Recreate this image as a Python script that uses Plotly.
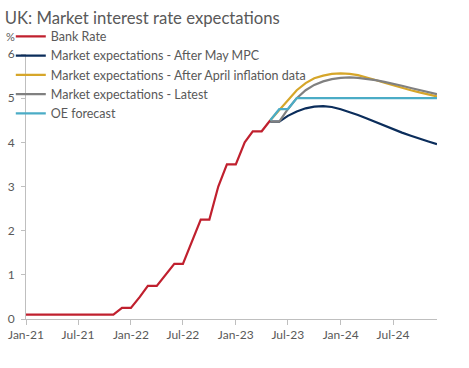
import pandas as pd
import plotly.graph_objects as go

bank_dates = pd.date_range("2021-01-01", "2023-05-01", freq="MS")
bank_rate = [0.1] * 11 + [0.25, 0.25, 0.5, 0.75, 0.75, 1.0, 1.25, 1.25, 1.75, 2.25, 2.25,
                          3.0, 3.5, 3.5, 4.0, 4.25, 4.25, 4.5]

fc_dates = pd.date_range("2023-05-01", "2024-12-01", freq="MS")
after_may_mpc = [4.47, 4.47, 4.60, 4.70, 4.77, 4.81, 4.82, 4.80, 4.75, 4.69, 4.62, 4.54,
                 4.46, 4.38, 4.30, 4.22, 4.15, 4.08, 4.02, 3.96]
after_april_cpi = [4.50, 4.73, 4.97, 5.18, 5.34, 5.45, 5.51, 5.55, 5.56, 5.55, 5.52, 5.47,
                   5.41, 5.35, 5.29, 5.23, 5.18, 5.13, 5.08, 5.04]
latest = [4.47, 4.47, 4.75, 5.00, 5.18, 5.30, 5.38, 5.43, 5.46, 5.47, 5.46, 5.44,
          5.41, 5.37, 5.33, 5.28, 5.23, 5.18, 5.13, 5.09]
oe_forecast = [4.5, 4.75, 4.75] + [5.0] * 17

names = ["Bank Rate", "Market expectations - After May MPC",
         "Market expectations - After April inflation data",
         "Market expectations - Latest", "OE forecast"]
colors = ["#C0202E", "#0B2D5B", "#D6A62A", "#808080", "#4BACC6"]

tick_vals = pd.date_range("2021-01-01", "2024-07-01", freq="6MS")
tick_text = [d.strftime("%b-%y") for d in tick_vals]

FONT = "Lato, Open Sans, sans-serif"
GREY = "#595959"

fig = go.Figure()
series = [(bank_dates, bank_rate), (fc_dates, after_may_mpc), (fc_dates, after_april_cpi),
          (fc_dates, latest), (fc_dates, oe_forecast)]
for (x, y), name, col in zip(series, names, colors):
    fig.add_trace(go.Scatter(x=x, y=y, name=name, mode="lines",
                             line=dict(color=col, width=2.2)))

fig.update_layout(
    width=469, height=368,
    margin=dict(l=26, r=32, t=54, b=49, autoexpand=False),
    paper_bgcolor="white", plot_bgcolor="white",
    font=dict(family=FONT, size=12, color=GREY),
    title=dict(text="UK: Market interest rate expectations", x=0.01, xanchor="left",
               xref="container", y=1 - 18.5 / 368, yanchor="middle", yref="container",
               font=dict(size=16.7, color=GREY, family=FONT)),
    showlegend=True,
    legend=dict(x=-0.037, xanchor="left", y=1.122, yanchor="top", bgcolor="rgba(0,0,0,0)",
                font=dict(size=12.5, color=GREY, family=FONT), tracegroupgap=0,
                itemwidth=30),
    xaxis=dict(range=[pd.Timestamp("2021-01-01"), pd.Timestamp("2024-12-01")],
               tickvals=tick_vals, ticktext=tick_text, showgrid=False, zeroline=False,
               showline=True, linecolor="#BFBFBF", linewidth=1, ticks="outside",
               ticklen=5, tickcolor="#BFBFBF", tickfont=dict(size=12, color=GREY),
               automargin=False),
    yaxis=dict(range=[0, 6], dtick=1, showgrid=False, zeroline=False,
               showline=True, linecolor="#BFBFBF", linewidth=1, ticks="outside",
               ticklen=4, tickcolor="#BFBFBF", tickfont=dict(size=12, color=GREY),
               ticklabelstandoff=4, automargin=False),
    annotations=[dict(text="%", xref="paper", yref="paper", x=-0.038, y=1.065,
                      xanchor="center", yanchor="middle", showarrow=False,
                      font=dict(size=11, color=GREY, family=FONT))],
)

fig.write_html("out.html", config={"displayModeBar": False},
               post_script="document.body.style.margin='0';document.body.style.overflow='hidden';")
